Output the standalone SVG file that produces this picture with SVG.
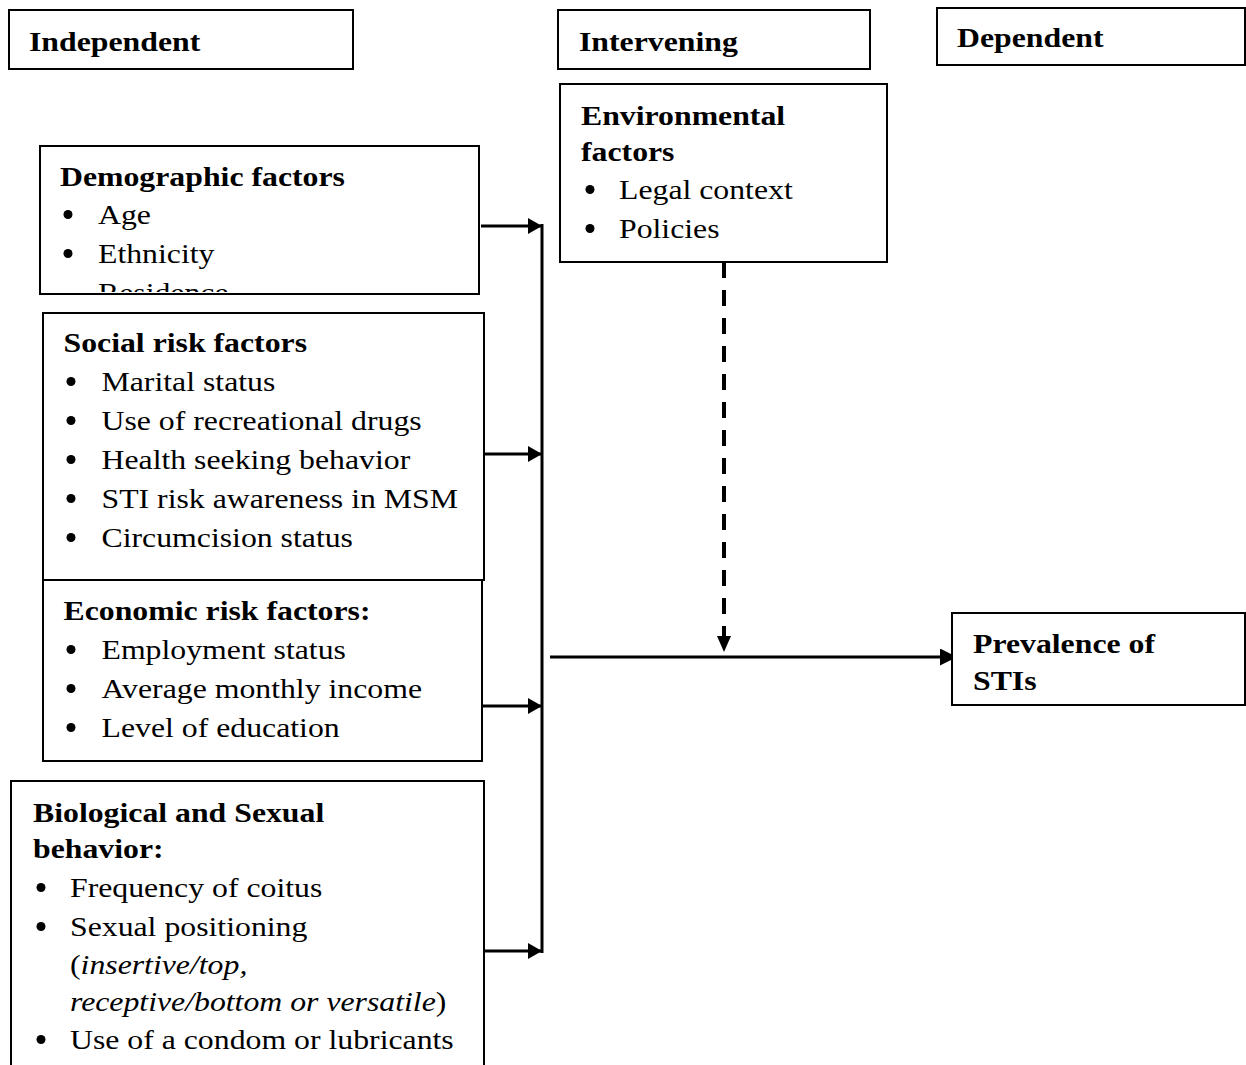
<svg xmlns="http://www.w3.org/2000/svg" width="1246" height="1065" viewBox="0 0 1246 1065">
<style>
  .box { fill: #ffffff; stroke: #000000; stroke-width: 2; }
  .t text { font-family: "Liberation Serif", "Times New Roman", serif; font-size: 28px; fill: #000000; }
  .h { font-weight: bold; }
  .i { font-style: italic; }
  .bul { fill: #000000; }
  .conn { stroke: #000000; stroke-width: 3; fill: none; }
  .dash { stroke: #000000; stroke-width: 4; fill: none; stroke-dasharray: 16 12; }
</style>
<defs>
  <marker id="ah" markerUnits="userSpaceOnUse" markerWidth="14" markerHeight="16" refX="13" refY="8" orient="auto">
    <path d="M0,0 L14,8 L0,16 z" fill="#000000" stroke="none"/>
  </marker>
  <marker id="ahBig" markerUnits="userSpaceOnUse" markerWidth="17" markerHeight="17" refX="16" refY="8.5" orient="auto">
    <path d="M0,0 L17,8.5 L0,17 z" fill="#000000" stroke="none"/>
  </marker>
  <marker id="ahDash" markerUnits="userSpaceOnUse" markerWidth="16" markerHeight="14" refX="15" refY="7" orient="auto">
    <path d="M0,0 L16,7 L0,14 z" fill="#000000" stroke="none"/>
  </marker>
  <clipPath id="demoClip">
    <rect x="41" y="147" width="437" height="145"/>
  </clipPath>
</defs>

<rect x="0" y="0" width="1246" height="1065" fill="#ffffff"/>

<g id="connectors">
  <line class="conn" x1="542" y1="224" x2="542" y2="953"/>
  <line class="conn" x1="481" y1="226" x2="541" y2="226" marker-end="url(#ah)"/>
  <line class="conn" x1="484" y1="454" x2="541" y2="454" marker-end="url(#ah)"/>
  <line class="conn" x1="482" y1="706" x2="541" y2="706" marker-end="url(#ah)"/>
  <line class="conn" x1="484" y1="951" x2="541" y2="951" marker-end="url(#ah)"/>
  <line class="conn" x1="550" y1="657" x2="956" y2="657" marker-end="url(#ahBig)"/>
  <line class="dash" x1="724" y1="262" x2="724" y2="651" marker-end="url(#ahDash)"/>
</g>

<g id="header-independent">
  <rect class="box" x="9" y="10" width="344" height="59"/>
  <g class="t" transform="scale(1.135 1)">
    <text class="h" x="25.55" y="51">Independent</text>
  </g>
</g>

<g id="header-intervening">
  <rect class="box" x="558" y="10" width="312" height="59"/>
  <g class="t" transform="scale(1.135 1)">
    <text class="h" x="510.13" y="51">Intervening</text>
  </g>
</g>

<g id="header-dependent">
  <rect class="box" x="937" y="8" width="308" height="57"/>
  <g class="t" transform="scale(1.135 1)">
    <text class="h" x="843.17" y="47">Dependent</text>
  </g>
</g>

<g id="environmental">
  <rect class="box" x="560" y="84" width="327" height="178"/>
  <circle class="bul" cx="590" cy="189.5" r="4.5"/>
  <circle class="bul" cx="590" cy="228.5" r="4.5"/>
  <g class="t" transform="scale(1.135 1)">
    <text class="h" x="511.89" y="125">Environmental</text>
    <text class="h" x="511.89" y="161">factors</text>
    <text x="545.37" y="199">Legal context</text>
    <text x="545.37" y="238">Policies</text>
  </g>
</g>

<g id="demographic">
  <rect class="box" x="40" y="146" width="439" height="148"/>
  <circle class="bul" cx="68" cy="214.5" r="4.5"/>
  <circle class="bul" cx="68" cy="253.5" r="4.5"/>
  <g clip-path="url(#demoClip)">
    <g class="t" transform="scale(1.135 1)">
      <text class="h" x="52.86" y="186">Demographic factors</text>
      <text x="86.34" y="224">Age</text>
      <text x="86.34" y="263">Ethnicity</text>
      <text x="86.34" y="302">Residence</text>
    </g>
  </g>
</g>

<g id="social">
  <rect class="box" x="43" y="313" width="441" height="267"/>
  <circle class="bul" cx="71" cy="381.5" r="4.5"/>
  <circle class="bul" cx="71" cy="420.5" r="4.5"/>
  <circle class="bul" cx="71" cy="459.5" r="4.5"/>
  <circle class="bul" cx="71" cy="498.5" r="4.5"/>
  <circle class="bul" cx="71" cy="537.5" r="4.5"/>
  <g class="t" transform="scale(1.135 1)">
    <text class="h" x="55.95" y="352">Social risk factors</text>
    <text x="89.43" y="391">Marital status</text>
    <text x="89.43" y="430">Use of recreational drugs</text>
    <text x="89.43" y="469">Health seeking behavior</text>
    <text x="89.43" y="508">STI risk awareness in MSM</text>
    <text x="89.43" y="547">Circumcision status</text>
  </g>
</g>

<g id="economic">
  <rect class="box" x="43" y="580" width="439" height="181"/>
  <circle class="bul" cx="71" cy="649.5" r="4.5"/>
  <circle class="bul" cx="71" cy="688.5" r="4.5"/>
  <circle class="bul" cx="71" cy="727.5" r="4.5"/>
  <g class="t" transform="scale(1.135 1)">
    <text class="h" x="55.95" y="620">Economic risk factors:</text>
    <text x="89.43" y="659">Employment status</text>
    <text x="89.43" y="698">Average monthly income</text>
    <text x="89.43" y="737">Level of education</text>
  </g>
</g>

<g id="biological">
  <rect class="box" x="11" y="781" width="473" height="300"/>
  <circle class="bul" cx="41" cy="887.5" r="4.5"/>
  <circle class="bul" cx="41" cy="926.5" r="4.5"/>
  <circle class="bul" cx="41" cy="1039.5" r="4.5"/>
  <g class="t" transform="scale(1.135 1)">
    <text class="h" x="29.07" y="822">Biological and Sexual</text>
    <text class="h" x="29.07" y="858">behavior:</text>
    <text x="61.67" y="897">Frequency of coitus</text>
    <text x="61.67" y="936">Sexual positioning</text>
    <text x="61.67" y="974">(<tspan class="i">insertive/top,</tspan></text>
    <text x="61.67" y="1011"><tspan class="i">receptive/bottom or versatile</tspan>)</text>
    <text x="61.67" y="1049">Use of a condom or lubricants</text>
  </g>
</g>

<g id="prevalence">
  <rect class="box" x="952" y="613" width="293" height="92"/>
  <g class="t" transform="scale(1.135 1)">
    <text class="h" x="857.27" y="653">Prevalence of</text>
    <text class="h" x="857.27" y="690">STIs</text>
  </g>
</g>
</svg>
